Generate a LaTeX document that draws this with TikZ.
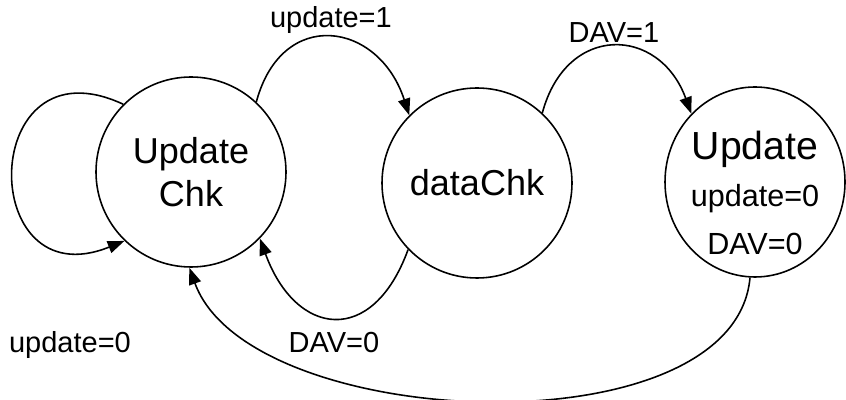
\documentclass[tikz,border=0pt]{standalone}
\usepackage{fontspec}
\setmainfont{Liberation Sans}
\usetikzlibrary{arrows.meta,shapes.geometric}

\tikzset{
  state/.style={draw, circle, line width=0.9pt, minimum size=3.8cm, inner sep=0pt, align=center},
  trans/.style={-{Triangle[length=9.5pt,width=7pt]}, line width=0.9pt},
  lbl/.style={font=\fontsize{16.5}{19}\selectfont, inner sep=2pt}
}

\begin{document}
\begin{tikzpicture}
  \useasboundingbox (0,0) rectangle (16.92,8);
  \node[state, font=\fontsize{20.5}{24.5}\selectfont] (UC) at (3.82,4.56) {Update\\Chk};
  \node[state, font=\fontsize{20.5}{24.5}\selectfont] (DC) at (9.54,4.34) {dataChk};
  \node[state, ellipse, minimum width=3.6cm, minimum height=3.8cm, inner sep=-10pt,
        font=\fontsize{17.4}{28.5}\selectfont] (UP) at (15.1,4.36)
    {\rule{0pt}{29pt}{\fontsize{22.3}{26}\selectfont Update}\\[-2pt] update=0\\[-1pt] DAV=0};
  %
  \path[trans]
    (UC.135) edge[out=155,in=202,looseness=3] (UC.226)
    (UC.47) edge[out=75,in=108,looseness=1.65] node[above,lbl]{update=1} (DC.135)
    (DC.47) edge[out=75,in=110,looseness=1.6] node[above,lbl]{DAV=1} (UP.133)
    (DC.224) edge[out=250,in=290,looseness=1.8] node[below=6pt,lbl]{DAV=0} (UC.316)
    (UP.267) edge[out=265,in=290,looseness=0.8] (UC.269);
  \node[lbl] (L0) at (1.4,1.1) {update=0};
\end{tikzpicture}
\end{document}
